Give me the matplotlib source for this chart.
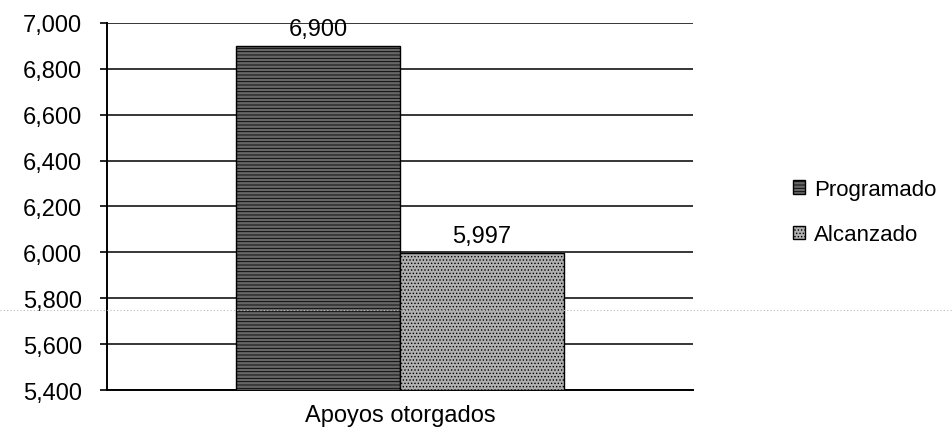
import matplotlib.pyplot as plt
from matplotlib.lines import Line2D
from matplotlib.patches import Patch

plt.rcParams['font.family'] = ['Liberation Sans', 'DejaVu Sans']
plt.rcParams['hatch.linewidth'] = 0.6

# datos
categoria = 'Apoyos otorgados'
series = ['Programado', 'Alcanzado']
valores = [6900, 5997]
colores = ['#666666', '#b0b0b0']
tramas = ['-----', '.....']
yticks = [5400, 5600, 5800, 6000, 6200, 6400, 6600, 6800, 7000]

fig = plt.figure(figsize=(9.52, 4.35), dpi=100)
ax = fig.add_axes([0.1124, 0.101, 0.6155, 0.844])

ancho = 0.28
pos = [-ancho / 2, ancho / 2]
for i in range(len(series)):
    ax.bar(pos[i], valores[i] - yticks[0], bottom=yticks[0], width=ancho,
           color=colores[i], edgecolor='black', linewidth=1.0,
           hatch=tramas[i], zorder=3)
    ax.text(pos[i], valores[i] + 25, f'{valores[i]:,}', ha='center',
            va='bottom', fontsize=17, zorder=4)

ax.set_xlim(-0.5, 0.5)
ax.set_ylim(yticks[0], yticks[-1])
ax.set_yticks(yticks)
ax.set_yticklabels([f'{v:,}' for v in yticks], fontsize=17)
ax.set_xticks([0])
ax.set_xticklabels([categoria], fontsize=17)
ax.tick_params(axis='x', length=0, pad=10)
ax.tick_params(axis='y', length=5, width=1.2, pad=13)
ax.yaxis.grid(True, color='black', linewidth=1.1, zorder=0)

for s in ['top', 'right']:
    ax.spines[s].set_visible(False)
ax.spines['left'].set_linewidth(1.4)
ax.spines['bottom'].set_linewidth(1.4)

# línea punteada del escaneo
fig.add_artist(Line2D([0, 1], [1 - 311 / 435] * 2, transform=fig.transFigure,
                      color='#bbbbbb', linestyle=(0, (1, 2)), linewidth=0.8))

handles = [Patch(facecolor=colores[i], edgecolor='black', hatch=tramas[i])
           for i in range(len(series))]
fig.legend(handles, series, loc='center left', bbox_to_anchor=(0.812, 0.51),
           frameon=False, fontsize=16, handlelength=0.55, handleheight=0.55,
           handletextpad=0.4, labelspacing=1.1)

fig.savefig('out.png', dpi=100)
